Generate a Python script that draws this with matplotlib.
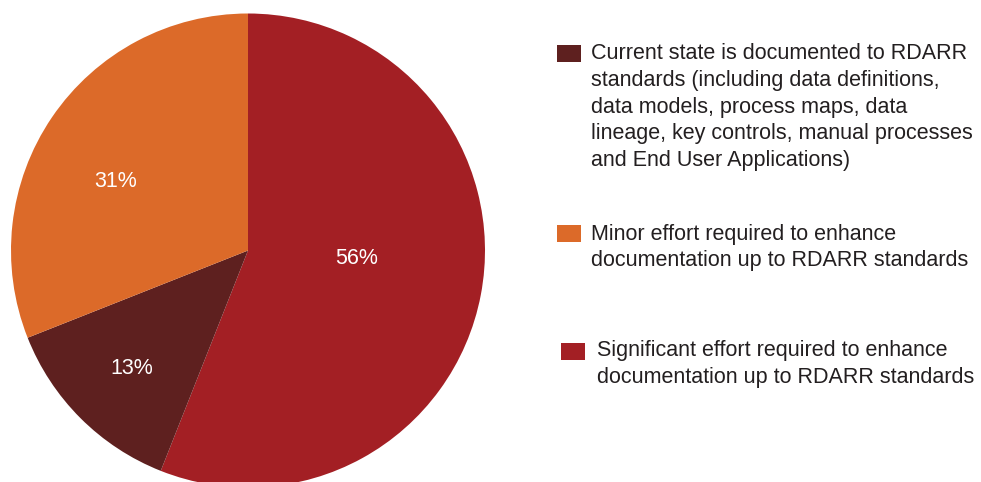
import matplotlib.pyplot as plt
from matplotlib.patches import Rectangle
import numpy as np

plt.rcParams['font.family'] = ['Liberation Sans', 'DejaVu Sans']

shares = [56, 13, 31]
colors = ['#A31F24', '#5E201F', '#DC6A29']
legend_labels = [
    'Current state is documented to RDARR\nstandards (including data definitions,\n'
    'data models, process maps, data\nlineage, key controls, manual processes\n'
    'and End User Applications)',
    'Minor effort required to enhance\ndocumentation up to RDARR standards',
    'Significant effort required to enhance\ndocumentation up to RDARR standards',
]
legend_colors = ['#5E201F', '#DC6A29', '#A31F24']

W, H = 981, 482
fig = plt.figure(figsize=(W / 100, H / 100), dpi=100)

def fx(x):
    return x / W

def fy(y):
    return 1 - y / H

# pie axes: centre (248, 250) px, radius 237 px
cx, cy, r = 248, 250.5, 237
ax = fig.add_axes([fx(cx - r), fy(cy + r), 2 * r / W, 2 * r / H])
wedges, _, pcts = ax.pie(shares, colors=colors, startangle=90, counterclock=False,
                         autopct='%d%%', pctdistance=0.6,
                         wedgeprops=dict(linewidth=0),
                         textprops=dict(color='white', fontsize=15.5))
ax.set_xlim(-1, 1)
ax.set_ylim(-1, 1)
ax.axis('off')

# nudge the percentage labels off the slice bisectors
label_pos = [(0.46, -4), (0.70, -134.6), (0.63, 152.6)]
for t, (d, a) in zip(pcts, label_pos):
    t.set_position((d * np.cos(np.radians(a)), d * np.sin(np.radians(a))))

# legend drawn by hand: square swatch + wrapped text
swatches = [(557, 45), (557, 225), (561, 343)]
text_xy = [(591, 107), (591, 247.5), (597, 364)]
for lab, col, (sx, sy), (tx, ty) in zip(legend_labels, legend_colors, swatches, text_xy):
    fig.add_artist(Rectangle((fx(sx), fy(sy + 17)), 24 / W, 17 / H,
                             transform=fig.transFigure, color=col, linewidth=0))
    fig.text(fx(tx), fy(ty), lab, fontsize=15.5, color='#231F20',
             ha='left', va='center', linespacing=1.36)

fig.savefig('out.png', dpi=100)
